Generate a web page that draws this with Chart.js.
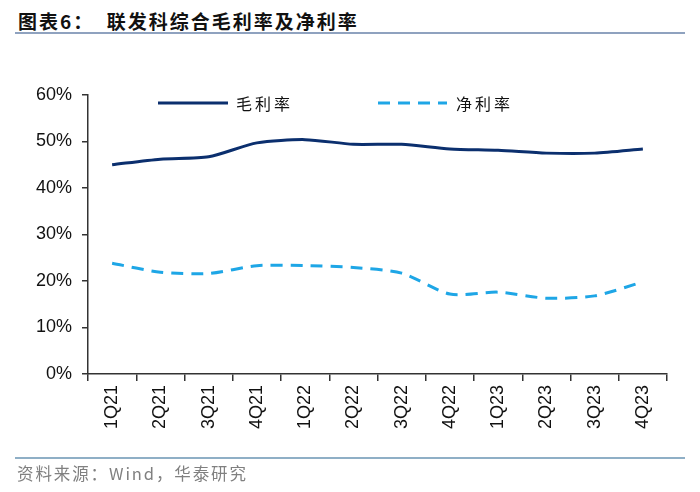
<!DOCTYPE html>
<html><head><meta charset="utf-8">
<script src="https://cdn.jsdelivr.net/npm/chart.js@4"></script>
<style>
html,body{margin:0;padding:0;background:#fff;}
#wrap{position:relative;width:700px;height:492px;overflow:hidden;}
#title{position:absolute;left:18px;top:7px;font-family:"Noto Sans CJK SC";font-weight:bold;font-size:19px;letter-spacing:2px;color:#111;white-space:pre;}
#tline{position:absolute;left:15px;top:32px;width:670px;height:2px;background:#8FA2BF;}
#fline{position:absolute;left:15px;top:457px;width:670px;height:2px;background:#8FAFC6;}
#foot{position:absolute;left:17px;top:461px;font-family:"Noto Sans CJK SC";font-size:16.5px;letter-spacing:1.9px;color:#808080;white-space:pre;}
#cv{position:absolute;left:0;top:0;}
</style></head>
<body><div id="wrap">
<div id="title">图表6：  联发科综合毛利率及净利率</div>
<div id="tline"></div>
<canvas id="cv" width="700" height="492"></canvas>
<div id="fline"></div>
<div id="foot">资料来源：Wind，华泰研究</div>
</div>
<script>
const categories = ["1Q21","2Q21","3Q21","4Q21","1Q22","2Q22","3Q22","4Q22","1Q23","2Q23","3Q23","4Q23"];
const grossMargin = [45.0, 46.2, 46.7, 49.7, 50.4, 49.4, 49.4, 48.4, 48.1, 47.5, 47.5, 48.4];
const netMargin = [23.8, 21.9, 21.6, 23.3, 23.3, 22.9, 21.7, 17.2, 17.6, 16.3, 16.8, 19.8];
const seriesNames = ["毛利率","净利率"];
const yTicks = [0,10,20,30,40,50,60];

const legendPlugin = {
  id:'customLegend',
  afterDraw(chart){
    const ctx = chart.ctx;
    const items = [{x1:158,x2:228,tx:236},{x1:378,x2:447,tx:456}];
    const y = 103;
    chart.data.datasets.forEach((ds,i)=>{
      const it = items[i];
      ctx.save();
      ctx.strokeStyle = ds.borderColor;
      ctx.lineWidth = ds.borderWidth;
      ctx.setLineDash(ds.borderDash || []);
      ctx.beginPath(); ctx.moveTo(it.x1,y); ctx.lineTo(it.x2,y); ctx.stroke();
      ctx.setLineDash([]);
      ctx.fillStyle = '#111';
      ctx.font = '16px "Noto Sans CJK SC"';
      ctx.textBaseline = 'middle';
      ctx.letterSpacing = '3px';
      ctx.fillText(ds.label, it.tx, y+1);
      ctx.restore();
    });
  }
};

new Chart(document.getElementById('cv'), {
  type:'line',
  data:{
    labels: categories,
    datasets:[
      {label:seriesNames[0], data:grossMargin, borderColor:'#0B2F6E', borderWidth:3, pointRadius:0, tension:0.25, fill:false},
      {label:seriesNames[1], data:netMargin, borderColor:'#1EA6E6', borderWidth:3, borderDash:[12,8], pointRadius:0, tension:0.25, fill:false}
    ]
  },
  options:{
    responsive:false, animation:false, devicePixelRatio:1,
    layout:{padding:{left:0,right:33,top:95,bottom:0}},
    plugins:{legend:{display:false}, tooltip:{enabled:false}},
    scales:{
      x:{
        offset:true,
        grid:{display:true, drawOnChartArea:false, drawTicks:true, tickLength:7, color:'#333', lineWidth:1.5, offset:true},
        border:{display:true, color:'#333', width:1.5},
        ticks:{color:'#111', font:{family:'"Liberation Sans", Arial', size:18}, maxRotation:90, minRotation:90, padding:4, autoSkip:false},
        afterFit(s){ s.height = 118; }
      },
      y:{
        min:0, max:60,
        afterBuildTicks(s){ s.ticks = yTicks.map(v=>({value:v})); },
        grid:{display:true, drawOnChartArea:false, drawTicks:true, tickLength:6, color:'#333', lineWidth:1.5},
        border:{display:true, color:'#333', width:1.5},
        ticks:{color:'#111', font:{family:'"Liberation Sans", Arial', size:18}, padding:10, callback:v=>v+'%'},
        afterFit(s){ s.width = 88; }
      }
    }
  },
  plugins:[legendPlugin]
});
</script>
</body></html>
